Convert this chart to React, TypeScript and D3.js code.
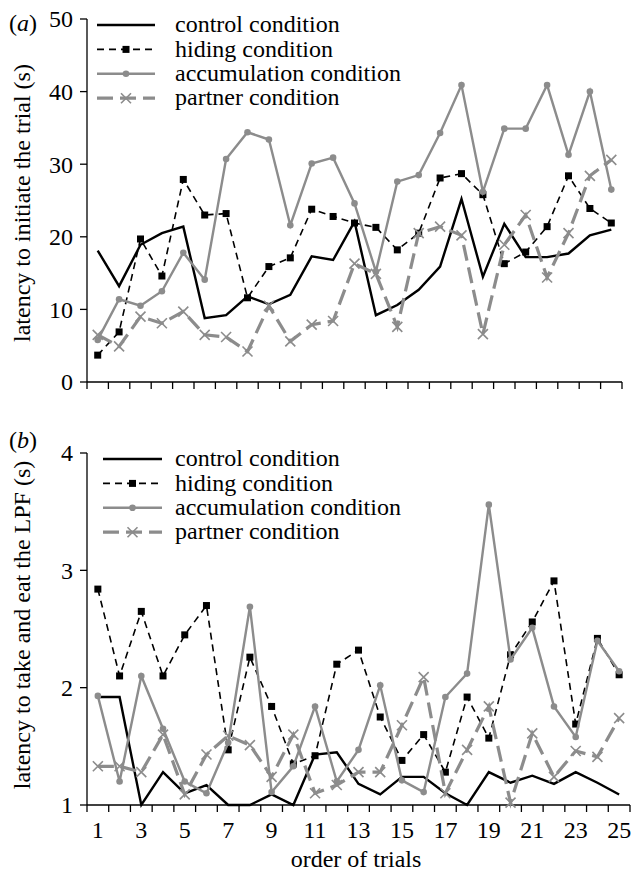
import React from 'react';
import * as d3 from 'd3';

const trials = d3.range(1, 26);
const xTickLabels = [1, 3, 5, 7, 9, 11, 13, 15, 17, 19, 21, 23, 25];

// panel (a): latency to initiate the trial (s)
const controlA = [18.1, 13.2, 18.9, 20.5, 21.4, 8.8, 9.2, 11.8, 10.7, 12.0, 17.3, 16.8, 22.1, 9.2, 10.6, 12.7, 15.9, 25.2, 14.5, 21.8, 17.2, 17.2, 17.7, 20.2, 21.0];
const hidingA = [3.7, 6.9, 19.7, 14.6, 27.9, 23.0, 23.2, 11.6, 15.9, 17.1, 23.8, 22.8, 21.9, 21.3, 18.2, 20.5, 28.1, 28.7, 25.8, 16.3, 17.9, 21.4, 28.4, 23.9, 21.9];
const accumA = [5.8, 11.4, 10.5, 12.5, 17.8, 14.1, 30.7, 34.4, 33.4, 21.6, 30.1, 30.9, 24.6, 15.2, 27.6, 28.5, 34.3, 40.9, 26.2, 34.9, 34.9, 40.9, 31.3, 40.0, 26.5];
const partnerA = [6.5, 4.9, 9.0, 8.1, 9.7, 6.5, 6.2, 4.2, 10.5, 5.6, 7.9, 8.4, 16.3, 14.9, 7.6, 20.5, 21.4, 20.2, 6.6, 18.9, 23.0, 14.4, 20.5, 28.4, 30.6];
const yTicksA = [0, 10, 20, 30, 40, 50];

// panel (b): latency to take and eat the LPF (s)
const controlB = [1.92, 1.92, 1.0, 1.28, 1.10, 1.17, 1.0, 1.0, 1.09, 1.0, 1.43, 1.45, 1.18, 1.09, 1.24, 1.24, 1.10, 1.0, 1.28, 1.19, 1.25, 1.18, 1.28, 1.19, 1.09];
const hidingB = [2.84, 2.10, 2.65, 2.10, 2.45, 2.70, 1.47, 2.26, 1.84, 1.35, 1.42, 2.20, 2.32, 1.75, 1.38, 1.60, 1.28, 1.92, 1.57, 2.28, 2.56, 2.91, 1.69, 2.42, 2.11];
const accumB = [1.93, 1.20, 2.10, 1.65, 1.20, 1.10, 1.53, 2.69, 1.11, 1.33, 1.84, 1.20, 1.47, 2.02, 1.21, 1.11, 1.92, 2.12, 3.56, 2.24, 2.51, 1.84, 1.58, 2.40, 2.14];
const partnerB = [1.33, 1.33, 1.28, 1.60, 1.09, 1.43, 1.59, 1.51, 1.24, 1.60, 1.10, 1.17, 1.28, 1.28, 1.68, 2.09, 1.10, 1.47, 1.84, 1.02, 1.61, 1.24, 1.46, 1.41, 1.74];
const yTicksB = [1, 2, 3, 4];

const seriesNames = ['control condition', 'hiding condition', 'accumulation condition', 'partner condition'];

const GREY = '#8c8c8c';
const FONT = '"Liberation Serif", "Times New Roman", serif';
const FS = 24;

type Style = { stroke: string; width: number; dash?: string; marker: 'none' | 'square' | 'circle' | 'cross' };
const styles: Style[] = [
  { stroke: '#000', width: 2.4, marker: 'none' },
  { stroke: '#000', width: 1.6, dash: '7,5', marker: 'square' },
  { stroke: GREY, width: 2.4, marker: 'circle' },
  { stroke: GREY, width: 3.2, dash: '16,7', marker: 'cross' },
];

const Marker = ({ kind, x, y }: { kind: Style['marker']; x: number; y: number }) => {
  if (kind === 'square') return <rect x={x - 3.5} y={y - 3.5} width={7} height={7} fill="#000" />;
  if (kind === 'circle') return <circle cx={x} cy={y} r={3.3} fill={GREY} />;
  if (kind === 'cross')
    return (
      <path d={`M${x - 5},${y - 5}L${x + 5},${y + 5}M${x - 5},${y + 5}L${x + 5},${y - 5}`} stroke={GREY} strokeWidth={1.6} />
    );
  return null;
};

type PanelProps = {
  label: string;
  labelY: number;
  title: string;
  series: number[][];
  yDomain: [number, number];
  yTicks: number[];
  top: number;
  bottom: number;
  xRange: [number, number];
  showXLabels: boolean;
  legendY: number;
  legendX: [number, number];
  titleY: number;
};

const Panel = (p: PanelProps) => {
  const x = d3.scaleBand<number>().domain(trials).range(p.xRange);
  const cx = (t: number) => (x(t) as number) + x.bandwidth() / 2;
  const y = d3.scaleLinear().domain(p.yDomain).range([p.bottom, p.top]);
  const line = d3
    .line<number>()
    .x((_, i) => cx(trials[i]))
    .y((d) => y(d));
  const boundaries = d3.range(26).map((i) => p.xRange[0] + i * x.step());

  return (
    <g fontFamily={FONT}>
      <text x={9} y={p.labelY} fontSize={FS}>
        (<tspan fontStyle="italic">{p.label}</tspan>)
      </text>
      <text transform={`translate(30,${p.titleY}) rotate(-90)`} textAnchor="middle" fontSize={FS}>
        {p.title}
      </text>

      {/* axes */}
      <line x1={p.xRange[0]} x2={p.xRange[0]} y1={p.top} y2={p.bottom} stroke="#000" strokeWidth={1.3} />
      {p.yTicks.map((t) => (
        <g key={t}>
          <line x1={p.xRange[0] - 7} x2={p.xRange[0]} y1={y(t)} y2={y(t)} stroke="#000" strokeWidth={1.3} />
          <text x={p.xRange[0] - 14} y={y(t)} dy="0.35em" textAnchor="end" fontSize={FS}>
            {t}
          </text>
        </g>
      ))}
      <line x1={p.xRange[0]} x2={p.xRange[1]} y1={p.bottom} y2={p.bottom} stroke="#000" strokeWidth={1.3} />
      {boundaries.map((b, i) => (
        <line key={i} x1={b} x2={b} y1={p.bottom} y2={p.bottom + 7} stroke="#000" strokeWidth={1.3} />
      ))}
      {p.showXLabels &&
        xTickLabels.map((t) => (
          <text key={t} x={cx(t)} y={p.bottom + 33} textAnchor="middle" fontSize={FS}>
            {t}
          </text>
        ))}

      {/* series */}
      {p.series.map((vals, si) => {
        const s = styles[si];
        return (
          <g key={si}>
            <path d={line(vals) || ''} fill="none" stroke={s.stroke} strokeWidth={s.width} strokeDasharray={s.dash} />
            {vals.map((v, i) => (
              <Marker key={i} kind={s.marker} x={cx(trials[i])} y={y(v)} />
            ))}
          </g>
        );
      })}

      {/* legend */}
      {seriesNames.map((name, i) => {
        const s = styles[i];
        const ly = p.legendY + i * 24.4;
        const [l0, l1] = p.legendX;
        return (
          <g key={name}>
            <line x1={l0} x2={l1} y1={ly} y2={ly} stroke={s.stroke} strokeWidth={s.width} strokeDasharray={s.dash} />
            <Marker kind={s.marker} x={(l0 + l1) / 2} y={ly} />
            <text x={175} y={ly} dy="0.3em" fontSize={FS}>
              {name}
            </text>
          </g>
        );
      })}
    </g>
  );
};

export default function App() {
  return (
    <svg width={632} height={874} style={{ position: 'absolute', left: 0, top: 0, background: '#fff' }}>
      <rect width={632} height={874} fill="#fff" />
      <Panel
        label="a"
        labelY={31}
        title="latency to initiate the trial (s)"
        series={[controlA, hidingA, accumA, partnerA]}
        yDomain={[0, 50]}
        yTicks={yTicksA}
        top={19}
        bottom={382}
        xRange={[87, 622]}
        showXLabels={false}
        legendY={25}
        legendX={[97, 155]}
        titleY={203}
      />
      <Panel
        label="b"
        labelY={448}
        title="latency to take and eat the LPF (s)"
        series={[controlB, hidingB, accumB, partnerB]}
        yDomain={[1, 4]}
        yTicks={yTicksB}
        top={453}
        bottom={805}
        xRange={[87, 630]}
        showXLabels={true}
        legendY={459}
        legendX={[103, 162]}
        titleY={625}
      />
      <text x={356} y={867} textAnchor="middle" fontSize={FS} fontFamily={FONT}>
        order of trials
      </text>
    </svg>
  );
}
